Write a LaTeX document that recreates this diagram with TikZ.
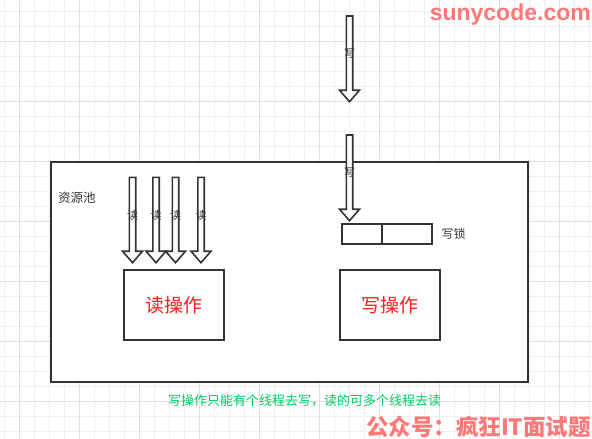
\documentclass[tikz,border=0pt]{standalone}
\usepackage{fontspec}
\setmainfont{Liberation Sans}
\newfontfamily\cjk{Noto Sans CJK SC}
\definecolor{gridminor}{RGB}{240,240,240}
\definecolor{gridmajor}{RGB}{224,224,224}
\definecolor{strokec}{RGB}{51,51,51}
\definecolor{opred}{RGB}{255,30,30}
\definecolor{notegreen}{RGB}{0,204,102}
\definecolor{wmark}{RGB}{255,120,120}
\newcommand\hollowarrow[5]{% x, top, tip, name, label
  \draw[arrowline] (#1-3.2,#2) -- (#1+3.2,#2) -- (#1+3.2,#3-11.5) -- (#1+10,#3-11.5) -- (#1,#3)
    -- (#1-10,#3-11.5) -- (#1-3.2,#3-11.5) -- cycle;
  \coordinate (#4-top) at (#1,#2);
  \coordinate (#4-tip) at (#1,#3);
  \node[arrowlabel] (#4-lbl) at (#1,{(#2+#3)/2-5}) {#5};
}
\begin{document}
\begin{tikzpicture}[x=1pt,y=-1pt,
  arrowline/.style={draw=strokec,line width=1.6pt,fill=white,line join=miter},
  arrowlabel/.style={font=\cjk\fontsize{11}{11}\selectfont,text=strokec,inner sep=0pt},
  boxstyle/.style={draw=strokec,line width=2pt,fill=white,rectangle,outer sep=0pt,inner sep=0pt,anchor=north west},
  optext/.style={font=\cjk\fontsize{19}{19}\selectfont,text=opred,inner sep=0pt},
  plaintext/.style={font=\cjk\fontsize{12.5}{12.5}\selectfont,text=strokec,inner sep=0pt}
]
\useasboundingbox (0,0) rectangle (592,439);
\fill[white] (0,0) rectangle (592,439);
% grid
\foreach \k in {0,...,39} {
  \pgfmathsetmacro\gx{4.3+15*\k}
  \draw[gridminor,line width=1pt] (\gx,0) -- (\gx,439);
}
\foreach \k in {0,...,28} {
  \pgfmathsetmacro\gy{11.7+15*\k}
  \draw[gridminor,line width=1pt] (0,\gy) -- (592,\gy);
}
\foreach \k in {0,...,9} {
  \pgfmathsetmacro\gx{19.3+60*\k}
  \draw[gridmajor,line width=1pt] (\gx,0) -- (\gx,439);
}
\foreach \k in {0,...,6} {
  \pgfmathsetmacro\gy{41.7+60*\k}
  \draw[gridmajor,line width=1pt] (0,\gy) -- (592,\gy);
}
% watermark top
\node[font=\bfseries\fontsize{23}{23}\selectfont,text=wmark,anchor=east,inner sep=0pt] (wm1) at (591,15) {sunycode.com};
% container
\node[boxstyle,minimum width=477pt,minimum height=220pt] (pool) at (51,162) {};
\node[plaintext,anchor=west] (poollbl) at (58,198) {资源池};
% operation boxes
\node[boxstyle,minimum width=100pt,minimum height=70pt] (readop) at (124.3,270) {};
\node[optext] (readtxt) at (readop.center) {读操作};
\node[boxstyle,minimum width=100.5pt,minimum height=70pt] (writeop) at (339.5,270) {};
\node[optext] (writetxt) at (writeop.center) {写操作};
% lock
\node[boxstyle,minimum width=40.3pt,minimum height=20pt] (lockL) at (341.7,224) {};
\node[boxstyle,minimum width=50.3pt,minimum height=20pt] (lockR) at (382,224) {};
\node[plaintext,anchor=west,font=\cjk\fontsize{12}{12}\selectfont] (locklbl) at (441.5,234) {写锁};
% arrows
\hollowarrow{349.5}{16}{101.7}{w1}{写}
\hollowarrow{349.5}{135}{220.7}{w2}{写}
\hollowarrow{132.5}{177.3}{262.7}{r1}{读}
\hollowarrow{156}{177.3}{262.7}{r2}{读}
\hollowarrow{175.5}{177.3}{262.7}{r3}{读}
\hollowarrow{201}{177.3}{262.7}{r4}{读}
% note
\node[font=\cjk\fontsize{13}{13}\selectfont,text=notegreen,anchor=west,inner sep=0pt] (note) at (168,400.5) {写操作只能有个线程去写，读的可多个线程去读};
% watermark bottom
\node[font=\cjk\bfseries\fontsize{22.5}{22.5}\selectfont,text=wmark,anchor=east,inner sep=0pt] (wm2) at (591,426.5) {公众号：疯狂IT面试题};
\end{tikzpicture}
\end{document}
